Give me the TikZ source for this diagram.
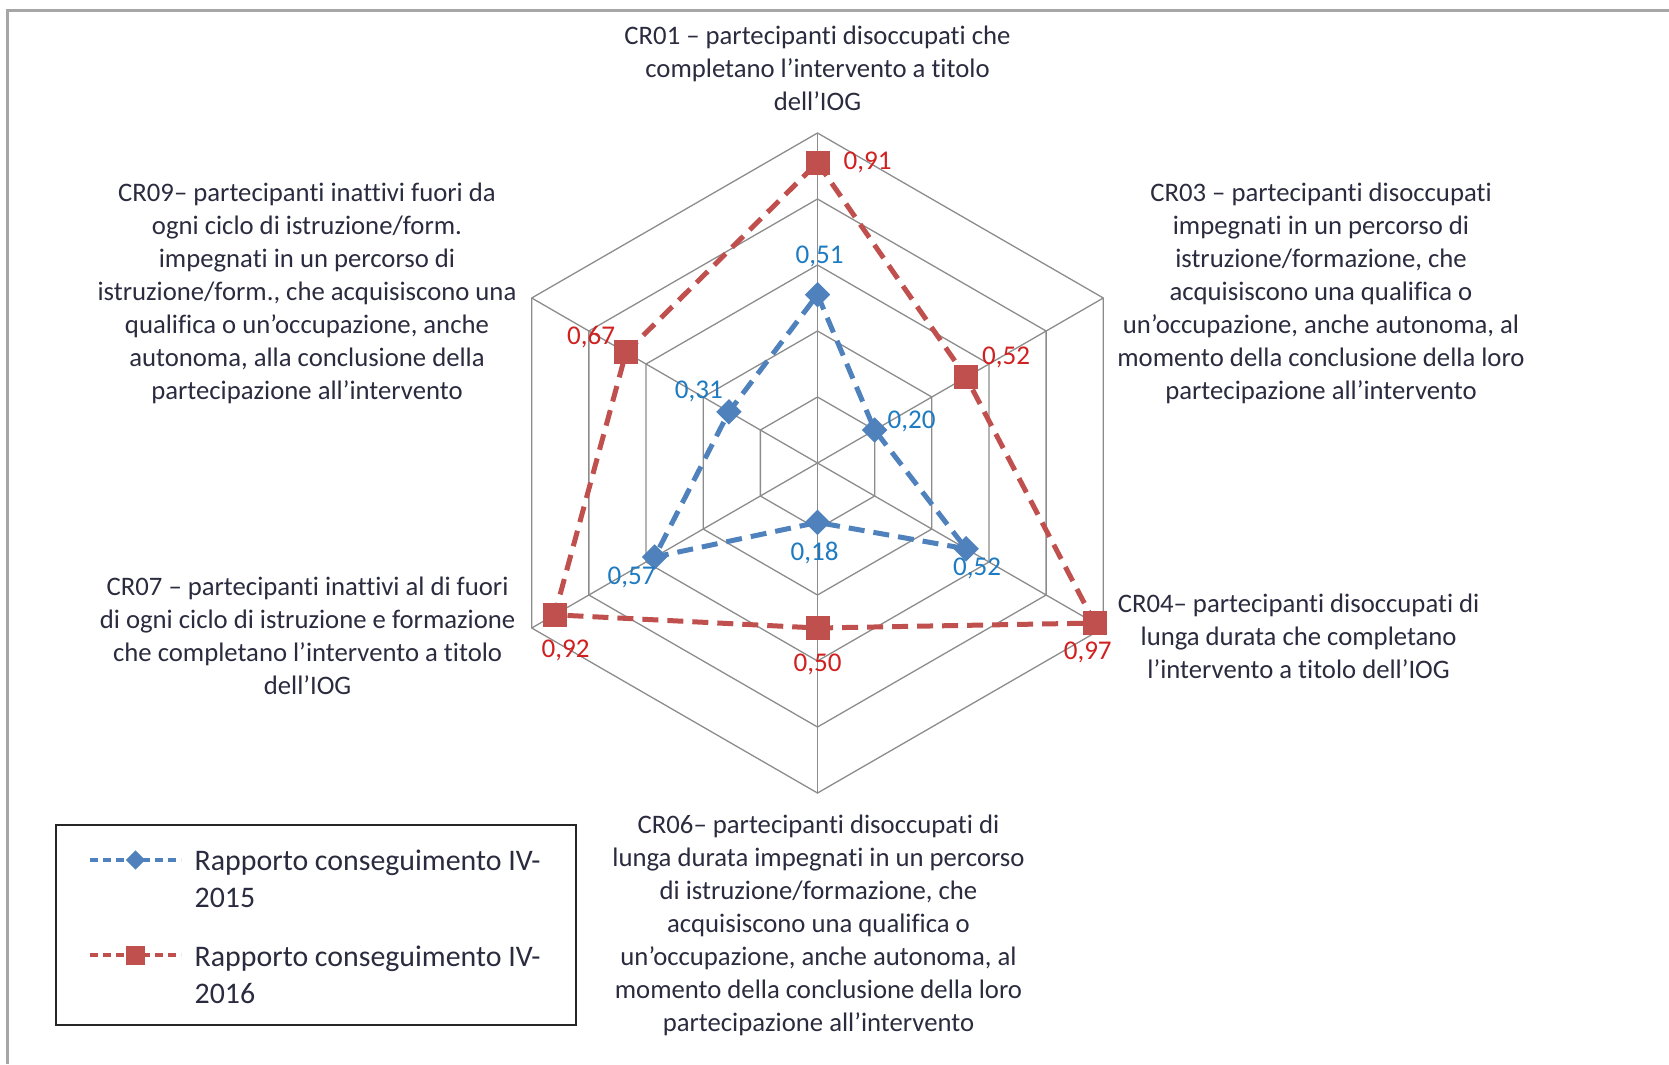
\documentclass[tikz,border=0pt]{standalone}
\usepackage{fontspec}
\setmainfont{Carlito}[RawFeature={-liga;-clig;-calt}]
\usetikzlibrary{calc,shapes.geometric}

\definecolor{txt}{HTML}{2B2B3F}
\definecolor{gridgray}{HTML}{8C8C8C}
\definecolor{framegray}{HTML}{A6A6A6}
\definecolor{serblue}{HTML}{4F81BD}
\definecolor{serred}{HTML}{C0504D}
\definecolor{labblue}{HTML}{1F7BC1}
\definecolor{labred}{HTML}{D02020}

\begin{document}
\begin{tikzpicture}[
  gridline/.style={draw=gridgray, line width=0.13mm},
  serA/.style={draw=serblue, line width=0.5mm, dash pattern=on 1.6mm off 0.9mm},
  serB/.style={draw=serred, line width=0.5mm, dash pattern=on 1.6mm off 0.9mm},
  markA/.style={diamond, fill=serblue, inner sep=0pt, minimum size=2.6mm},
  markB/.style={rectangle, fill=serred, inner sep=0pt, minimum size=2.4mm},
  valA/.style={text=labblue, inner sep=0pt, font=\fontsize{7.7}{9}\selectfont},
  valB/.style={text=labred, inner sep=0pt, font=\fontsize{7.7}{9}\selectfont},
  axlab/.style={text=txt, align=center, inner sep=0pt, font=\fontsize{7.6}{9.4}\selectfont},
  legtxt/.style={text=txt, align=left, inner sep=0pt, anchor=west, font=\fontsize{8.5}{10.6}\selectfont},
  legline/.style={line width=0.35mm, dash pattern=on 0.8mm off 0.5mm}
]

\def\cx{8.175} \def\cy{6.01} \def\R{3.3}
\useasboundingbox (0,0) rectangle (16.69,10.64);
\draw[framegray, line width=0.3mm] (0.07,0) -- (0.07,10.54) -- (16.69,10.54);

\coordinate (O) at (\cx,\cy);
\begin{scope}[shift={(O)}, x=\R cm, y=\R cm]
 \foreach \r in {1,...,5}
  \draw[gridline] (90:{\r/5}) \foreach \a in {30,-30,-90,-150,150} { -- (\a:{\r/5}) } -- cycle;
 \foreach \a in {90,30,-30,-90,-150,150}
  \draw[gridline] (0,0) -- (\a:1);
 % n / angle / 2015 / 2016
 \foreach \n/\a/\u/\v in {1/90/0.51/0.91, 2/30/0.20/0.52, 3/-30/0.52/0.97,
                          4/-90/0.18/0.50, 5/-150/0.57/0.92, 6/150/0.31/0.67}
 {
  \coordinate (a\n) at (\a:\u);
  \coordinate (b\n) at (\a:\v);
 }
\end{scope}

\draw[serA] (a1) -- (a2) -- (a3) -- (a4) -- (a5) -- (a6) -- cycle;
\foreach \n in {1,...,6}
 \node[markA] (ma\n) at (a\n) {};
\draw[serB] (b1) -- (b2) -- (b3) -- (b4) -- (b5) -- (b6) -- cycle;
\foreach \n in {1,...,6}
 \node[markB] (mb\n) at (b\n) {};

\foreach \n/\dx/\dy/\t in {1/0.2/3.8/{0,51}, 2/3.7/0.85/{0,20}, 3/1.1/-2.0/{0,52},
                           4/-0.3/-3.1/{0,18}, 5/-2.3/-2.0/{0,57}, 6/-3.0/2.0/{0,31}}
 \path (a\n) ++(\dx mm,\dy mm) node[valA] (va\n) {\t};
\foreach \n/\dx/\dy/\t in {1/5.0/0/{0,91}, 2/4.0/2.0/{0,52}, 3/-0.7/-2.9/{0,97},
                           4/0/-3.6/{0,50}, 5/1.1/-3.6/{0,92}, 6/-3.5/1.5/{0,67}}
 \path (b\n) ++(\dx mm,\dy mm) node[valB] (vb\n) {\t};

\node[axlab] (cr01) at (8.175,9.96) {CR01 – partecipanti disoccupati che\\completano l’intervento a titolo\\dell’IOG};
\node[axlab] (cr03) at (13.21,7.71) {CR03 – partecipanti disoccupati\\impegnati in un percorso di\\istruzione/formazione, che\\acquisiscono una qualifica o\\un’occupazione, anche autonoma, al\\momento della conclusione della loro\\partecipazione all’intervento};
\node[axlab] (cr04) at (12.986,4.275) {CR04– partecipanti disoccupati di\\lunga durata che completano\\l’intervento a titolo dell’IOG};
\node[axlab] (cr06) at (8.185,1.39) {CR06– partecipanti disoccupati di\\lunga durata impegnati in un percorso\\di istruzione/formazione, che\\acquisiscono una qualifica o\\un’occupazione, anche autonoma, al\\momento della conclusione della loro\\partecipazione all’intervento};
\node[axlab] (cr07) at (3.076,4.28) {CR07 – partecipanti inattivi al di fuori\\di ogni ciclo di istruzione e formazione\\che completano l’intervento a titolo\\dell’IOG};
\node[axlab] (cr09) at (3.07,7.71) {CR09– partecipanti inattivi fuori da\\ogni ciclo di istruzione/form.\\impegnati in un percorso di\\istruzione/form., che acquisiscono una\\qualifica o un’occupazione, anche\\autonoma, alla conclusione della\\partecipazione all’intervento};

% legend
\draw[black!85, line width=0.2mm] (0.564,0.39) rectangle (5.76,2.39);
\coordinate (la1) at (0.90,2.04); \coordinate (la2) at (1.81,2.04);
\coordinate (lb1) at (0.90,1.09); \coordinate (lb2) at (1.81,1.09);
\draw[serA, legline] (la1) -- (la2);
\node[markA, minimum size=2.0mm] (lma) at ($(la1)!0.5!(la2)$) {};
\draw[serB, legline] (lb1) -- (lb2);
\node[markB, minimum size=1.9mm] (lmb) at ($(lb1)!0.5!(lb2)$) {};
\node[legtxt] (lta) at (1.94,1.855) {Rapporto conseguimento IV-\\2015};
\node[legtxt] (ltb) at (1.94,0.895) {Rapporto conseguimento IV-\\2016};

\end{tikzpicture}
\end{document}
